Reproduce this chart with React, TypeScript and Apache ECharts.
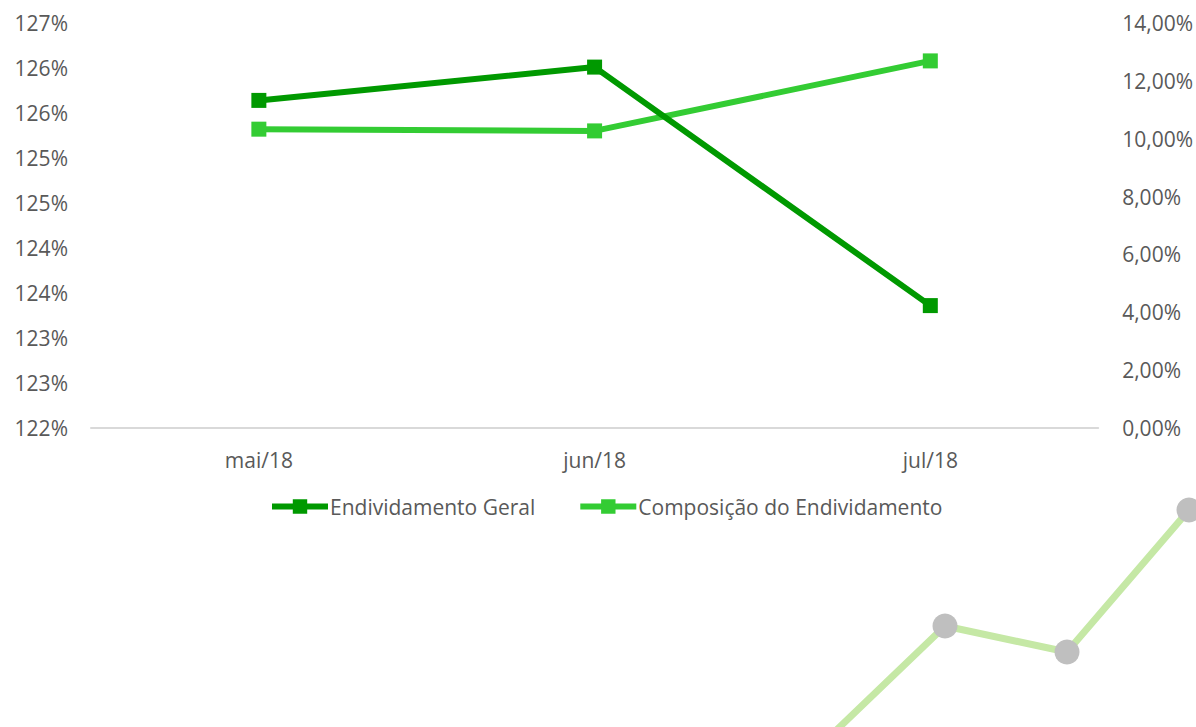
import React, { useEffect, useRef } from "react";
import * as echarts from "echarts";

const categories = ["mai/18", "jun/18", "jul/18"];
const endividamentoGeral = [125.64, 126.01, 123.36];
const composicaoEndividamento = [10.33, 10.27, 12.69];

// fragment of a neighbouring chart visible at the bottom right
const fragmentCategories = ["a", "b", "c", "d"];
const fragmentValues = [-16, 101, 75, 217];

const DARK = "#009900";
const LIGHT = "#33CC33";
const TEXT = "#595959";
const FONT = "'Open Sans', sans-serif";
const FS = 21;

export default function App() {
  const ref = useRef<HTMLDivElement>(null);
  useEffect(() => {
    if (!ref.current) return;
    const chart = echarts.init(ref.current, undefined, { renderer: "svg" });
    chart.setOption({
      animation: false,
      backgroundColor: "#ffffff",
      textStyle: { fontFamily: FONT },
      grid: [
        { left: 91, right: 97, top: 23, bottom: 299, containLabel: false },
        { left: 823, width: 366, top: 510, bottom: 0, containLabel: false },
      ],
      legend: {
        data: ["Endividamento Geral", "Composição do Endividamento"],
        top: 491,
        left: 264,
        itemWidth: 56,
        itemHeight: 18,
        itemGap: 42,
        lineStyle: { width: 6 },
        textStyle: { color: TEXT, fontSize: FS, fontFamily: FONT, padding: [0, 0, 0, -3] },
      },
      xAxis: [
        {
          type: "category",
          gridIndex: 0,
          data: categories,
          boundaryGap: true,
          axisLine: { lineStyle: { color: "#D9D9D9", width: 2 } },
          axisTick: { show: false },
          axisLabel: { color: TEXT, fontSize: FS, margin: 21, fontFamily: FONT },
        },
        {
          type: "category",
          gridIndex: 1,
          data: fragmentCategories,
          boundaryGap: false,
          show: false,
        },
      ],
      yAxis: [
        {
          type: "value",
          gridIndex: 0,
          min: 122,
          max: 126.5,
          interval: 0.5,
          splitLine: { show: false },
          axisLine: { show: false },
          axisTick: { show: false },
          axisLabel: {
            color: TEXT,
            fontSize: FS,
            margin: 23,
            fontFamily: FONT,
            formatter: (v: number) => Math.round(v) + "%",
          },
        },
        {
          type: "value",
          gridIndex: 0,
          position: "right",
          min: 0,
          max: 14,
          interval: 2,
          splitLine: { show: false },
          axisLine: { show: false },
          axisTick: { show: false },
          axisLabel: {
            color: TEXT,
            fontSize: FS,
            margin: 24,
            fontFamily: FONT,
            formatter: (v: number) => v.toFixed(2).replace(".", ",") + "%",
          },
        },
        {
          type: "value",
          gridIndex: 1,
          min: 0,
          max: 217,
          show: false,
        },
      ],
      series: [
        {
          name: "Endividamento Geral",
          type: "line",
          xAxisIndex: 0,
          yAxisIndex: 0,
          data: endividamentoGeral,
          symbol: "rect",
          symbolSize: 15,
          lineStyle: { color: DARK, width: 6 },
          itemStyle: { color: DARK },
          z: 3,
        },
        {
          name: "Composição do Endividamento",
          type: "line",
          xAxisIndex: 0,
          yAxisIndex: 1,
          data: composicaoEndividamento,
          symbol: "rect",
          symbolSize: 15,
          lineStyle: { color: LIGHT, width: 6 },
          itemStyle: { color: LIGHT },
          z: 2,
        },
        {
          name: "fragment",
          type: "line",
          xAxisIndex: 1,
          yAxisIndex: 2,
          data: fragmentValues,
          clip: false,
          symbol: "circle",
          symbolSize: 25,
          showSymbol: true,
          lineStyle: { color: "#C5E8A5", width: 7 },
          itemStyle: { color: "#BFBFBF" },
          silent: true,
        },
      ],
    });
    return () => chart.dispose();
  }, []);
  return (
    <div
      ref={ref}
      style={{ position: "absolute", left: 0, top: 0, width: 1196, height: 727 }}
    />
  );
}
